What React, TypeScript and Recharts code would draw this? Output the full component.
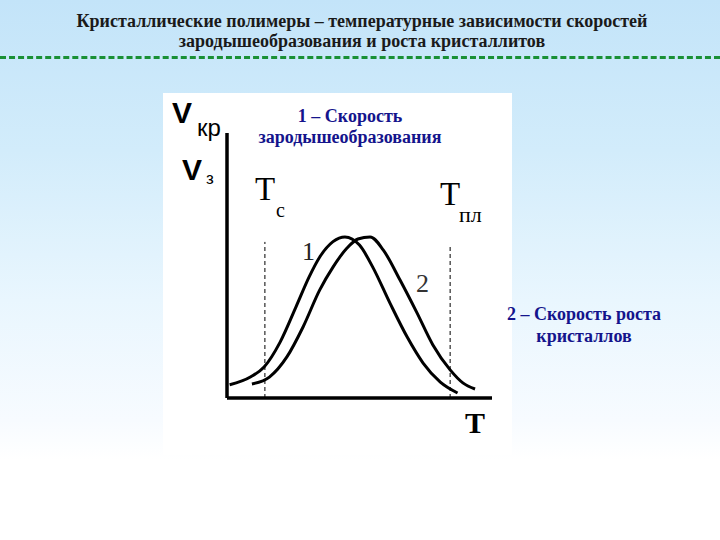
import { LineChart, Line, XAxis, YAxis, ReferenceLine } from "recharts";

// curve 1 - nucleation rate (T, V)
const nucleationT = [1, 9, 14, 20, 26, 31, 35, 40, 44.5, 50, 55, 61.5, 68, 74, 80.5, 87];
const nucleationV = [5, 8, 11.7, 21, 34.3, 45.7, 53.2, 59, 60.8, 57.7, 49.4, 35.8, 23, 13.2, 6, 1.9];

// curve 2 - crystal growth rate
const growthT = [9.4, 16, 22.6, 28.7, 35, 40, 45.3, 49.4, 54, 59, 65.3, 71.7, 77.7, 84.2, 89, 93.6];
const growthV = [5.3, 7.9, 15.5, 26.8, 40.8, 49.4, 56.6, 60, 60.8, 55.8, 44.5, 32.1, 20, 10.6, 5.7, 3.4];

// dashed markers: glass transition and melting temperatures
const tGlass = 14.3;
const tMelt = 84.2;
const markerTop = [58.9, 57];

const curve1 = nucleationT.map((t, i) => ({ t, v: nucleationV[i] }));
const curve2 = growthT.map((t, i) => ({ t, v: growthV[i] }));

const serif = '"Liberation Serif", "Times New Roman", serif';
const sans = '"Liberation Sans", Arial, sans-serif';

export default function App() {
  return (
    <div
      style={{
        position: "absolute",
        left: 0,
        top: 0,
        width: 720,
        height: 540,
        overflow: "hidden",
        background:
          "linear-gradient(to bottom, #c3e4f9 0px, #d2ecfb 150px, #e9f6fe 300px, #f7fbff 420px, #ffffff 460px)",
      }}
    >
      <div
        style={{
          position: "absolute",
          left: 0,
          top: 56,
          width: 720,
          height: 0,
          borderTop: "3px dashed #1a9036",
        }}
      />
      <div
        style={{
          position: "absolute",
          left: 163,
          top: 93,
          width: 349,
          height: 362,
          background: "#fff",
        }}
      />
      <div style={{ position: "absolute", left: 200, top: 120 }}>
        <LineChart width={320} height={300} margin={{ top: 13, right: 28, bottom: 22, left: 27 }}>
          <XAxis dataKey="t" type="number" domain={[0, 100]} hide allowDuplicatedCategory={false} />
          <YAxis type="number" domain={[0, 100]} hide />
          <ReferenceLine y={0} stroke="#000" strokeWidth={3.5} />
          <ReferenceLine x={0} stroke="#000" strokeWidth={3.5} />
          <ReferenceLine
            segment={[{ x: tGlass, y: 0 }, { x: tGlass, y: markerTop[0] }]}
            stroke="#000"
            strokeWidth={1}
            strokeDasharray="4 3"
          />
          <ReferenceLine
            segment={[{ x: tMelt, y: 0 }, { x: tMelt, y: markerTop[1] }]}
            stroke="#000"
            strokeWidth={1}
            strokeDasharray="4 3"
          />
          <Line
            data={curve1}
            dataKey="v"
            type="monotone"
            stroke="#000"
            strokeWidth={3}
            dot={false}
            isAnimationActive={false}
          />
          <Line
            data={curve2}
            dataKey="v"
            type="monotone"
            stroke="#000"
            strokeWidth={3}
            dot={false}
            isAnimationActive={false}
          />
        </LineChart>
      </div>
      <svg
        width={720}
        height={540}
        style={{ position: "absolute", left: 0, top: 0, pointerEvents: "none" }}
      >
        <g fontFamily={serif} fontWeight="bold" fontSize={18} fill="#1a1a1a" textAnchor="middle">
          <text x={362} y={27}>Кристаллические полимеры – температурные зависимости скоростей</text>
          <text x={362} y={47}>зародышеобразования и роста кристаллитов</text>
        </g>
        <g fontFamily={serif} fontWeight="bold" fontSize={18} fill="#14148c" textAnchor="middle">
          <text x={350} y={122}>1 – Скорость</text>
          <text x={350} y={143}>зародышеобразования</text>
          <text x={584} y={320}>2 – Скорость роста</text>
          <text x={584} y={342}>кристаллов</text>
        </g>
        <text x={172} y={123} fontFamily={sans} fontWeight="bold" fontSize={30} fill="#000">V</text>
        <text x={197} y={136} fontFamily={sans} fontSize={24} fill="#000">кр</text>
        <text x={182} y={180} fontFamily={sans} fontWeight="bold" fontSize={30} fill="#000">V</text>
        <text x={206} y={184} fontFamily={sans} fontSize={17} fill="#000">з</text>
        <text x={255} y={200} fontFamily={serif} fontSize={33} fill="#000">T</text>
        <text x={276} y={217} fontFamily={serif} fontSize={20} fill="#000">с</text>
        <text x={440} y={205} fontFamily={serif} fontSize={33} fill="#000">T</text>
        <text x={459} y={222} fontFamily={serif} fontSize={22} fill="#000">пл</text>
        <text x={302} y={260} fontFamily={serif} fontSize={26} fill="#222">1</text>
        <text x={416} y={292} fontFamily={serif} fontSize={26} fill="#333">2</text>
        <text x={465} y={433} fontFamily={serif} fontWeight="bold" fontSize={30} fill="#000">T</text>
      </svg>
    </div>
  );
}
